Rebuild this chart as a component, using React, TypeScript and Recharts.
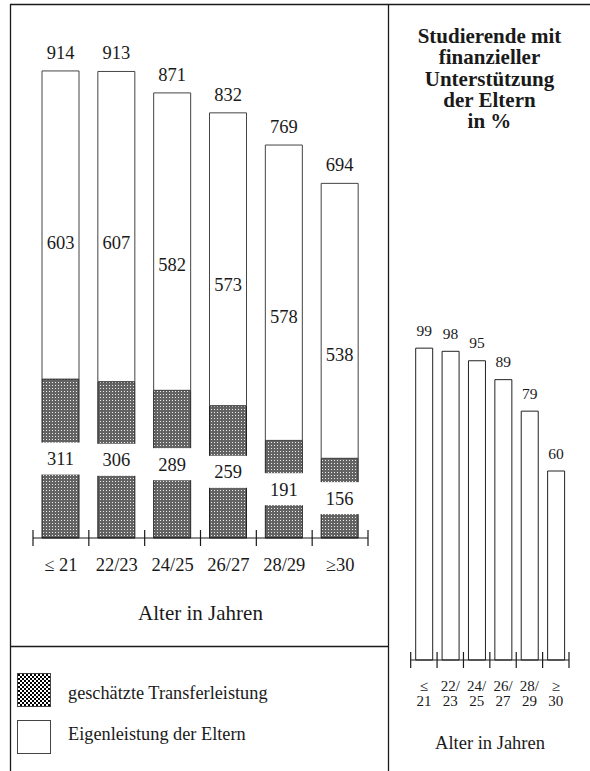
import React from 'react';
import { BarChart, Bar, XAxis, YAxis, LabelList } from 'recharts';

// ---- Data ----
const ageGroups = ['≤ 21', '22/23', '24/25', '26/27', '28/29', '≥30'];
const transferValues = [311, 306, 289, 259, 191, 156];
const eigenValues = [603, 607, 582, 573, 578, 538];
const totalValues = [914, 913, 871, 832, 769, 694];

const shareAgeTop = ['≤', '22/', '24/', '26/', '28/', '≥'];
const shareAgeBottom = ['21', '23', '25', '27', '29', '30'];
const shareValues = [99, 98, 95, 89, 79, 60];

const titleLines = ['Studierende mit', 'finanzieller', 'Unterstützung', 'der Eltern', 'in %'];
const axisTitle = 'Alter in Jahren';
const legendTransfer = 'geschätzte Transferleistung';
const legendEigen = 'Eigenleistung der Eltern';

const leftData = ageGroups.map((age, i) => ({
  age,
  transfer: transferValues[i],
  eigen: eigenValues[i],
  total: totalValues[i],
}));

const rightData = shareAgeTop.map((top, i) => ({
  age: `${top} ${shareAgeBottom[i]}`,
  share: shareValues[i],
}));

const FONT = '"Liberation Serif", "Times New Roman", serif';
const INK = '#1a1a1a';

const getBox = (props: any) => {
  const vb = props.viewBox || props;
  const x = Number(vb.x);
  const y = Number(vb.y);
  const w = Number(vb.width);
  const h = Number(vb.height);
  return { x: Math.min(x, x + w), y: Math.min(y, y + h), width: Math.abs(w), height: Math.abs(h) };
};

const bandHalf = (props: any) => {
  const p = props.payload;
  if (p && typeof p.offset === 'number' && p.offset > 0) return p.offset;
  return Number(props.width) / Number(props.visibleTicksCount) / 2;
};

const LeftTick = (props: any) => {
  const { x, y, index, visibleTicksCount } = props;
  const half = bandHalf(props);
  const last = index === visibleTicksCount - 1;
  return (
    <g>
      <line x1={x - half} x2={x - half} y1={y - 8} y2={y + 8} stroke={INK} strokeWidth={1.2} />
      {last && <line x1={x + half} x2={x + half} y1={y - 8} y2={y + 8} stroke={INK} strokeWidth={1.2} />}
      <text x={x} y={y + 33} textAnchor="middle" fontSize={18.5} fontFamily={FONT} fill={INK}>
        {ageGroups[index]}
      </text>
    </g>
  );
};

const RightTick = (props: any) => {
  const { x, y, index, visibleTicksCount } = props;
  const half = bandHalf(props);
  const last = index === visibleTicksCount - 1;
  return (
    <g>
      <line x1={x - half} x2={x - half} y1={y - 8} y2={y + 8} stroke={INK} strokeWidth={1.2} />
      {last && <line x1={x + half} x2={x + half} y1={y - 8} y2={y + 8} stroke={INK} strokeWidth={1.2} />}
      <text x={x} y={y + 31} textAnchor="middle" fontSize={15} fontFamily={FONT} fill={INK}>
        {shareAgeTop[index]}
      </text>
      <text x={x} y={y + 46} textAnchor="middle" fontSize={15} fontFamily={FONT} fill={INK}>
        {shareAgeBottom[index]}
      </text>
    </g>
  );
};

const renderTransferLabel = (props: any) => {
  const b = getBox(props);
  const cx = b.x + b.width / 2;
  const cy = b.y + b.height / 2;
  const v = props.value ?? transferValues[props.index];
  return (
    <g>
      <rect x={b.x - 2} y={cy - 16} width={b.width + 4} height={32} fill="#fff" />
      <text x={cx} y={cy + 6.5} textAnchor="middle" fontSize={18.5} fontFamily={FONT} fill={INK}>
        {v}
      </text>
    </g>
  );
};

const renderEigenLabel = (props: any) => {
  const b = getBox(props);
  const cx = b.x + b.width / 2;
  const v = props.value ?? eigenValues[props.index];
  return (
    <text x={cx} y={b.y + 178} textAnchor="middle" fontSize={18.5} fontFamily={FONT} fill={INK}>
      {v}
    </text>
  );
};

const renderTotalLabel = (props: any) => {
  const b = getBox(props);
  const cx = b.x + b.width / 2;
  const v = props.value ?? totalValues[props.index];
  return (
    <text x={cx} y={b.y - 12} textAnchor="middle" fontSize={18.5} fontFamily={FONT} fill={INK}>
      {v}
    </text>
  );
};

const renderShareLabel = (props: any) => {
  const b = getBox(props);
  const cx = b.x + b.width / 2;
  const v = props.value ?? shareValues[props.index];
  return (
    <text x={cx} y={b.y - 12.5} textAnchor="middle" fontSize={15.5} fontFamily={FONT} fill={INK}>
      {v}
    </text>
  );
};

export default function App() {
  return (
    <div style={{ position: 'absolute', left: 0, top: 0, width: 590, height: 771, background: '#fff', fontFamily: FONT }}>
      <svg width={590} height={771} style={{ position: 'absolute', left: 0, top: 0 }}>
        <defs>
          <pattern id="barChecker" width={3} height={3} patternUnits="userSpaceOnUse">
            <rect x={0} y={0} width={3} height={3} fill="#636363" />
            <rect x={1} y={1} width={1} height={1} fill="#ececec" />
          </pattern>
          <pattern id="legendChecker" width={4} height={4} patternUnits="userSpaceOnUse">
            <rect x={0} y={0} width={4} height={4} fill="#fff" />
            <rect x={0} y={0} width={2} height={2} fill="#000" />
            <rect x={2} y={2} width={2} height={2} fill="#000" />
          </pattern>
        </defs>
        {/* frame */}
        <line x1={10} y1={4.5} x2={590} y2={4.5} stroke={INK} strokeWidth={1.3} />
        <line x1={10.5} y1={4} x2={10.5} y2={771} stroke={INK} strokeWidth={1.3} />
        <line x1={388.5} y1={4} x2={388.5} y2={771} stroke={INK} strokeWidth={1.3} />
        <line x1={10} y1={646.5} x2={388} y2={646.5} stroke={INK} strokeWidth={1.3} />

        {/* axis titles */}
        <text x={200.5} y={620} textAnchor="middle" fontSize={21} fontFamily={FONT} fill={INK}>
          {axisTitle}
        </text>
        <text x={490} y={749} textAnchor="middle" fontSize={18.5} fontFamily={FONT} fill={INK}>
          {axisTitle}
        </text>

        {/* right title */}
        {titleLines.map((t, i) => (
          <text key={t} x={489.5} y={42.7 + i * 21.4} textAnchor="middle" fontSize={21} fontWeight="bold" fontFamily={FONT} fill={INK}>
            {t}
          </text>
        ))}

        {/* legend */}
        <rect x={17.5} y={673.5} width={33} height={33} fill="url(#legendChecker)" stroke="#444" strokeWidth={1} />
        <text x={68} y={699} fontSize={18.3} fontFamily={FONT} fill={INK}>
          {legendTransfer}
        </text>
        <rect x={17.5} y={720.5} width={33} height={33} fill="#fff" stroke="#444" strokeWidth={1} />
        <text x={68} y={740} fontSize={18.3} fontFamily={FONT} fill={INK}>
          {legendEigen}
        </text>
      </svg>

      <div style={{ position: 'absolute', left: 0, top: 0 }}>
        <BarChart width={388} height={646} data={leftData} margin={{ top: 27, right: 20, left: 33, bottom: 0 }}>
          <YAxis hide domain={[0, 1000]} type="number" />
          <XAxis
            dataKey="age"
            height={108}
            tickSize={0}
            tickMargin={0}
            tickLine={false}
            axisLine={{ stroke: INK, strokeWidth: 1.2 }}
            tick={(p: any) => <LeftTick {...p} />}
            interval={0}
          />
          <Bar dataKey="transfer" stackId="a" fill="url(#barChecker)" stroke="#222" strokeWidth={1} barSize={37} isAnimationActive={false}>
            <LabelList dataKey="transfer" content={renderTransferLabel} />
          </Bar>
          <Bar dataKey="eigen" stackId="a" fill="#fff" stroke="#444" strokeWidth={1} barSize={37} isAnimationActive={false}>
            <LabelList dataKey="eigen" content={renderEigenLabel} />
            <LabelList dataKey="total" content={renderTotalLabel} />
          </Bar>
        </BarChart>
      </div>

      <div style={{ position: 'absolute', left: 388, top: 0 }}>
        <BarChart width={202} height={771} data={rightData} margin={{ top: 345, right: 21, left: 22.7, bottom: 0 }}>
          <YAxis hide domain={[0, 100]} type="number" />
          <XAxis
            dataKey="age"
            height={111}
            tickSize={0}
            tickMargin={0}
            tickLine={false}
            axisLine={{ stroke: INK, strokeWidth: 1.2 }}
            tick={(p: any) => <RightTick {...p} />}
            interval={0}
          />
          <Bar dataKey="share" fill="#fff" stroke="#222" strokeWidth={1} barSize={17} isAnimationActive={false}>
            <LabelList dataKey="share" content={renderShareLabel} />
          </Bar>
        </BarChart>
      </div>
    </div>
  );
}
